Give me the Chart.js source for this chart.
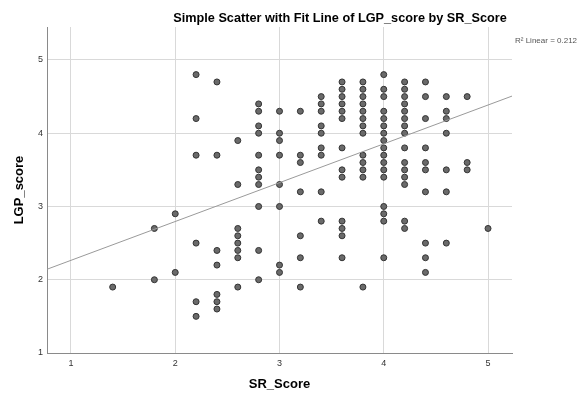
<!DOCTYPE html>
<html>
<head>
<meta charset="utf-8">
<script src="https://cdn.jsdelivr.net/npm/chart.js@4.4.0/dist/chart.umd.min.js"></script>
<style>
  html, body { margin: 0; padding: 0; background: #fff; }
  #wrap { width: 588px; height: 394px; }
</style>
</head>
<body>
<div id="wrap"><canvas id="scatter" width="588" height="394"></canvas></div>
<script>
// SR_Score values (one per column of dots)
const srColumns = [1.4, 1.8, 2.0, 2.2, 2.4, 2.6, 2.8, 3.0, 3.2, 3.4, 3.6, 3.8, 4.0, 4.2, 4.4, 4.6, 4.8, 5.0];
// LGP_score values found in each column
const lgpByColumn = [
  [1.9],
  [2.7, 2.0],
  [2.9, 2.1],
  [4.8, 4.2, 3.7, 2.5, 1.7, 1.5],
  [4.7, 3.7, 2.4, 2.2, 1.8, 1.7, 1.6],
  [3.9, 3.3, 2.7, 2.6, 2.5, 2.4, 2.3, 1.9],
  [4.4, 4.3, 4.1, 4.0, 3.7, 3.5, 3.4, 3.3, 3.0, 2.4, 2.0],
  [4.3, 4.0, 3.9, 3.7, 3.3, 3.0, 2.2, 2.1],
  [4.3, 3.7, 3.6, 3.2, 2.6, 2.3, 1.9],
  [4.5, 4.4, 4.3, 4.1, 4.0, 3.8, 3.7, 3.2, 2.8],
  [4.7, 4.6, 4.5, 4.4, 4.3, 4.2, 3.8, 3.5, 3.4, 2.8, 2.7, 2.6, 2.3],
  [4.7, 4.6, 4.5, 4.4, 4.3, 4.2, 4.1, 4.0, 3.7, 3.6, 3.5, 3.4, 1.9],
  [4.8, 4.6, 4.5, 4.3, 4.2, 4.1, 4.0, 3.9, 3.8, 3.7, 3.6, 3.5, 3.4, 3.0, 2.9, 2.8, 2.3],
  [4.7, 4.6, 4.5, 4.4, 4.3, 4.2, 4.1, 4.0, 3.8, 3.6, 3.5, 3.4, 3.3, 2.8, 2.7],
  [4.7, 4.5, 4.2, 3.8, 3.6, 3.5, 3.2, 2.5, 2.3, 2.1],
  [4.5, 4.3, 4.2, 4.0, 3.5, 3.2, 2.5],
  [4.5, 3.6, 3.5],
  [2.7]
];
const xTicks = [1, 2, 3, 4, 5];
const yTicks = [1, 2, 3, 4, 5];
const xRange = [0.77, 5.23];
const yRange = [1, 5.45];
// fit line
const fitIntercept = 1.735;
const fitSlope = 0.53;
const r2Label = 'R\u00B2 Linear = 0.212';

const points = [];
srColumns.forEach((x, i) => {
  lgpByColumn[i].forEach(y => points.push({ x: x, y: y }));
});
const fitLine = xRange.map(x => ({ x: x, y: fitIntercept + fitSlope * x }));

const FONT = "'Liberation Sans', Arial, sans-serif";

// title and R2 note, drawn as text on the canvas
const textPlugin = {
  id: 'textPlugin',
  afterDraw(chart) {
    const ctx = chart.ctx;
    ctx.save();
    ctx.fillStyle = '#000';
    ctx.font = 'bold 12.7px ' + FONT;
    ctx.textAlign = 'center';
    ctx.textBaseline = 'alphabetic';
    ctx.fillText('Simple Scatter with Fit Line of LGP_score by SR_Score', 340, 21.5);
    ctx.fillStyle = '#555';
    ctx.font = '8px ' + FONT;
    ctx.textAlign = 'left';
    ctx.fillText(r2Label, 515, 43);
    ctx.restore();
  }
};

new Chart(document.getElementById('scatter'), {
  type: 'scatter',
  data: {
    datasets: [
      {
        label: 'LGP_score',
        data: points,
        pointRadius: 3,
        pointBackgroundColor: '#6a6a6a',
        pointBorderColor: '#333',
        pointBorderWidth: 1,
        order: 2
      },
      {
        type: 'line',
        label: 'Fit',
        data: fitLine,
        borderColor: '#9a9a9a',
        borderWidth: 1,
        pointRadius: 0,
        fill: false,
        order: 1
      }
    ]
  },
  options: {
    responsive: false,
    animation: false,
    layout: { padding: { left: 0, right: 76, top: 27, bottom: 0 } },
    plugins: {
      legend: { display: false },
      tooltip: { enabled: false },
      title: { display: false }
    },
    scales: {
      x: {
        type: 'linear',
        min: xRange[0],
        max: xRange[1],
        afterBuildTicks: s => { s.ticks = xTicks.map(v => ({ value: v })); },
        afterFit: s => { s.height = 41; },
        grid: { color: '#d9d9d9', drawTicks: false },
        border: { color: '#8a8a8a', width: 1 },
        ticks: { padding: 5, color: '#333', font: { family: FONT, size: 9 } },
        title: {
          display: true,
          text: 'SR_Score',
          color: '#000',
          font: { family: FONT, size: 13, weight: 'bold' },
          padding: { top: 0, bottom: 2 }
        }
      },
      y: {
        type: 'linear',
        min: yRange[0],
        max: yRange[1],
        afterBuildTicks: s => { s.ticks = yTicks.map(v => ({ value: v })); },
        afterFit: s => { s.width = 47; },
        grid: { color: '#d9d9d9', drawTicks: false },
        border: { color: '#8a8a8a', width: 1 },
        ticks: { padding: 4, color: '#333', font: { family: FONT, size: 9 } },
        title: {
          display: true,
          text: 'LGP_score',
          color: '#000',
          font: { family: FONT, size: 13, weight: 'bold' },
          padding: { top: 12, bottom: 0 }
        }
      }
    }
  },
  plugins: [textPlugin]
});
</script>
</body>
</html>
